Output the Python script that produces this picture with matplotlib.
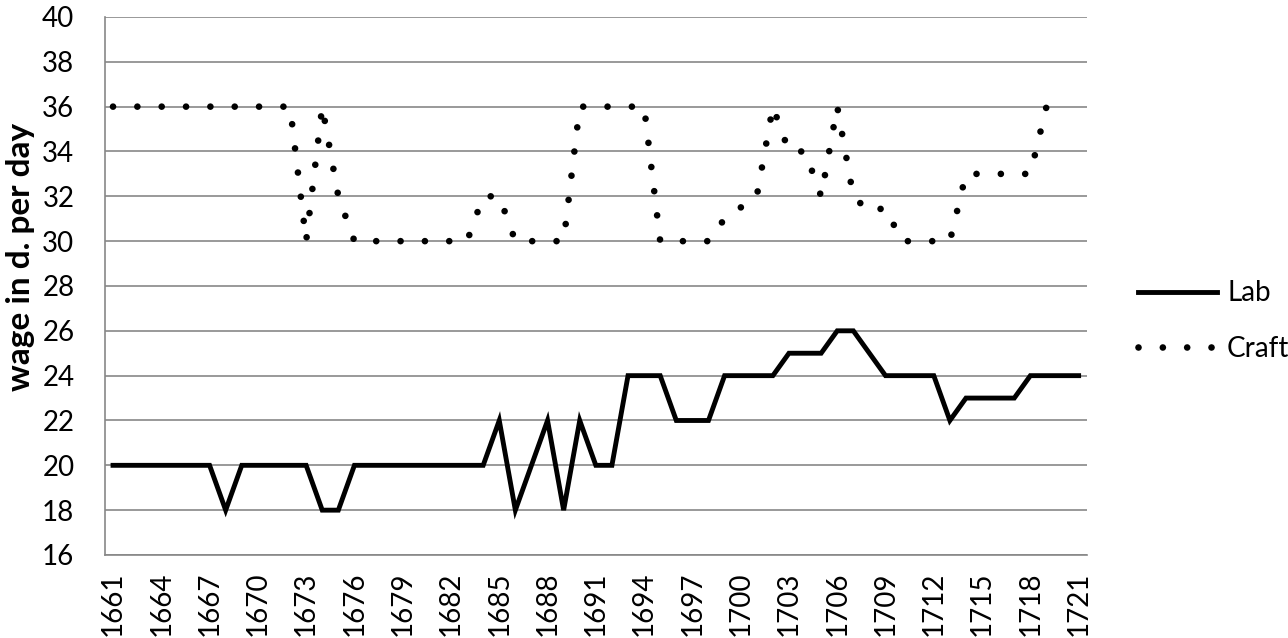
''' Labourer and craftsman daily wages, 1661-1721.
'''
import matplotlib.pyplot as plt
import numpy as np

years = list(range(1661, 1722))

# labourer wage, d. per day
lab = [20, 20, 20, 20, 20, 20, 20, 18, 20, 20,
       20, 20, 20, 18, 18, 20, 20, 20, 20, 20,
       20, 20, 20, 20, 22, 18, 20, 22, 18, 22,
       20, 20, 24, 24, 24, 22, 22, 22, 24, 24,
       24, 24, 25, 25, 25, 26, 26, 25, 24, 24,
       24, 24, 22, 23, 23, 23, 23, 24, 24, 24,
       24]

# craftsman wage, d. per day (no value for the last year)
craft = [36, 36, 36, 36, 36, 36, 36, 36, 36, 36,
         36, 36, 30, 36, 32, 30, 30, 30, 30, 30,
         30, 30, 30, 32, 32, 30, 30, 30, 30, 36,
         36, 36, 36, 36, 30, 30, 30, 30, 31, 31.5,
         32, 36, 34, 34, 32, 36, 32, 31.3, 31.5, 30,
         30, 30, 30, 33, 33, 33, 33, 33, 36, 36,
         np.nan]

tick_step = 3
grey = '#878787'

plt.rcParams['font.family'] = ['Lato', 'DejaVu Sans']

fig = plt.figure(figsize=(12.88, 6.38), dpi=100)
ax = fig.add_axes([0.0815, 0.1301, 0.8437 - 0.0815, 0.9734 - 0.1301])

x = np.arange(len(years))
ax.plot(x, lab, color='black', lw=3.5, solid_joinstyle='miter', label='Lab')
ax.plot(x, craft, color='black', lw=4.8, ls=(0, (0.001, 3.65)),
        dash_capstyle='round', label='Craft')

ax.set_xlim(-0.5, len(years) - 0.5)
ax.set_ylim(16, 40)
ax.set_yticks(np.arange(16, 41, 2))
ax.set_xticks(x[::tick_step])
ax.set_xticklabels([str(y) for y in years[::tick_step]], rotation=90)

ax.grid(axis='y', color=grey, lw=1.2)
ax.set_axisbelow(True)
for side in ['top', 'right']:
    ax.spines[side].set_visible(False)
for side in ['left', 'bottom']:
    ax.spines[side].set_color(grey)
    ax.spines[side].set_linewidth(1.2)

ax.tick_params(axis='y', length=0, pad=22, labelsize=20)
ax.tick_params(axis='x', length=0, pad=12, labelsize=20)

# y axis title sits a little above the middle of the plot, as in the source
fig.text(21 / 1288, 1 - 257 / 638, 'wage in d. per day', rotation=90,
         ha='center', va='center', fontsize=24, fontweight='bold')

ax.legend(loc='center left', bbox_to_anchor=(1.027, 0.435), frameon=False,
          fontsize=20, handlelength=2.85, handletextpad=0.35, labelspacing=1.05)

plt.savefig('out.png', dpi=100)
